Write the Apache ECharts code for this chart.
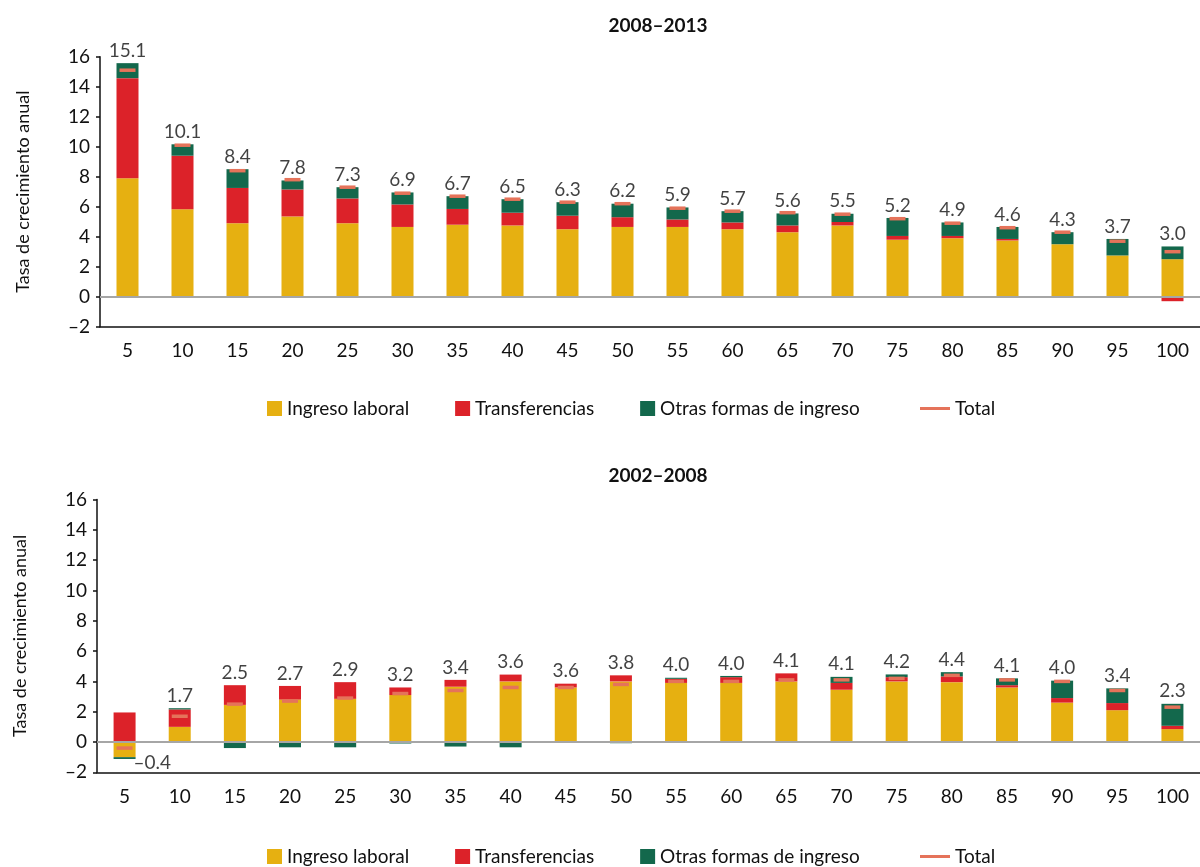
<!DOCTYPE html>
<html>
<head>
<meta charset="utf-8">
<script src="https://cdn.jsdelivr.net/npm/echarts@6/dist/echarts.min.js"></script>
<style>
  html, body { margin: 0; padding: 0; background: #fff; }
  #chart { width: 1200px; height: 867px; }
</style>
</head>
<body>
<div id="chart"></div>
<script>
// ── datos ───────────────────────────────────────────
const percentiles = ['5','10','15','20','25','30','35','40','45','50','55','60','65','70','75','80','85','90','95','100']
const yTicks = { min: -2, max: 16, step: 2 }

// 2008–2013
const laboralA = [7.9, 5.83, 4.9, 5.35, 4.9, 4.65, 4.8, 4.75, 4.5, 4.65, 4.65, 4.5, 4.3, 4.75, 3.8, 3.9, 3.75, 3.5, 2.75, 2.5]
const transfA  = [6.67, 3.57, 2.35, 1.8, 1.65, 1.5, 1.05, 0.85, 0.9, 0.65, 0.5, 0.45, 0.45, 0.23, 0.25, 0.15, 0.1, 0, -0.05, -0.3]
const otrasA   = [1.0, 0.76, 1.25, 0.6, 0.75, 0.8, 0.85, 0.9, 0.9, 0.9, 0.8, 0.75, 0.8, 0.55, 1.2, 0.9, 0.8, 0.8, 1.1, 0.85]
const totalA   = [15.1, 10.1, 8.4, 7.8, 7.3, 6.9, 6.7, 6.5, 6.3, 6.2, 5.9, 5.7, 5.6, 5.5, 5.2, 4.9, 4.6, 4.3, 3.7, 3.0]

// 2002–2008
const laboralB = [-1.0, 1.0, 2.45, 2.8, 2.85, 3.1, 3.65, 4.0, 3.6, 4.0, 3.9, 3.9, 4.0, 3.45, 4.0, 3.95, 3.6, 2.6, 2.1, 0.85]
const transfB  = [1.95, 1.15, 1.3, 0.9, 1.1, 0.5, 0.45, 0.45, 0.25, 0.4, 0.27, 0.38, 0.53, 0.45, 0.28, 0.38, 0.15, 0.3, 0.47, 0.22]
const otrasB   = [-0.12, 0.08, -0.4, -0.35, -0.35, -0.1, -0.3, -0.35, 0, -0.08, 0.07, 0.08, 0, 0.4, 0.18, 0.28, 0.45, 1.15, 0.97, 1.45]
const totalB   = [-0.4, 1.7, 2.5, 2.7, 2.9, 3.2, 3.4, 3.6, 3.6, 3.8, 4.0, 4.0, 4.1, 4.1, 4.2, 4.4, 4.1, 4.0, 3.4, 2.3]

const names = ['Ingreso laboral', 'Transferencias', 'Otras formas de ingreso', 'Total']

// colores
const YEL = '#e6b011'
const RED = '#dc2229'
const GRN = '#13684c'
const TOT = '#e5735a'
const INK = '#111'
const FONT = 'Lato, "Open Sans", sans-serif'

const fmt = v => v.toFixed(1).replace('-', '\u2013')

// posición de la etiqueta: encima de la pila positiva, o a la derecha si el total es negativo
const labelData = (parts, totals) => totals.map((t, i) => {
  const pos = parts.reduce((s, p) => s + Math.max(p[i], 0), 0)
  const neg = parts.reduce((s, p) => s + Math.min(p[i], 0), 0)
  if (t < 0) {
    return { value: neg, label: { position: 'right', distance: 9, offset: [0, 4] } }
  }
  return { value: pos }
})

const zeroLine = {
  silent: true,
  symbol: 'none',
  label: { show: false },
  lineStyle: { color: '#a6a6a6', width: 2, type: 'solid' },
  data: [{ yAxis: 0 }],
}

const buildSeries = (idx, lab, tra, otr, tot) => [
  {
    name: names[0], type: 'bar', stack: 's' + idx, xAxisIndex: idx, yAxisIndex: idx,
    barWidth: 22, data: lab, itemStyle: { color: YEL },
    markLine: zeroLine,
  },
  {
    name: names[1], type: 'bar', stack: 's' + idx, xAxisIndex: idx, yAxisIndex: idx,
    barWidth: 22, data: tra, itemStyle: { color: RED },
  },
  {
    name: names[2], type: 'bar', stack: 's' + idx, xAxisIndex: idx, yAxisIndex: idx,
    barWidth: 22, data: otr, itemStyle: { color: GRN },
  },
  {
    name: names[3], type: 'scatter', xAxisIndex: idx, yAxisIndex: idx,
    symbol: 'rect', symbolSize: [16, 3.5], z: 5,
    itemStyle: { color: TOT, opacity: 1 }, data: tot,
  },
  {
    name: 'etiquetas', type: 'scatter', xAxisIndex: idx, yAxisIndex: idx,
    symbolSize: 0, z: 6, silent: true,
    data: labelData([lab, tra, otr], tot),
    label: {
      show: true, position: 'top', distance: 3,
      color: INK, fontSize: 19, fontFamily: FONT,
      formatter: p => fmt(tot[p.dataIndex]),
    },
  },
]

const xAxisCfg = (idx) => ({
  type: 'category', gridIndex: idx, data: percentiles,
  axisLine: { onZero: false, lineStyle: { color: INK, width: 1.5 } },
  axisTick: { show: false },
  axisLabel: { color: INK, fontSize: 19, fontFamily: FONT, margin: 15 },
  splitLine: { show: false },
})

const yAxisCfg = (idx) => ({
  type: 'value', gridIndex: idx,
  min: yTicks.min, max: yTicks.max, interval: yTicks.step,
  name: 'Tasa de crecimiento anual', nameLocation: 'middle', nameGap: 68,
  nameTextStyle: { color: INK, fontSize: 18, fontFamily: FONT },
  axisLine: { show: true, lineStyle: { color: INK, width: 1.5 } },
  axisTick: { show: true, inside: false, length: 4, lineStyle: { color: INK, width: 1.5 } },
  axisLabel: {
    color: INK, fontSize: 19, fontFamily: FONT, margin: 10,
    formatter: v => String(v).replace('-', '\u2013'),
  },
  splitLine: { show: false },
})

const legendCfg = (top) => [
  {
    left: 262, top, itemWidth: 15, itemHeight: 15, itemGap: 46, icon: 'rect',
    textStyle: { color: INK, fontSize: 19, fontFamily: FONT },
    data: names.slice(0, 3),
  },
  {
    left: 915, top, itemWidth: 30, itemHeight: 3,
    textStyle: { color: INK, fontSize: 19, fontFamily: FONT },
    data: [{ name: 'Total', icon: 'rect' }],
  },
]

const chart = echarts.init(document.getElementById('chart'), null, { renderer: 'canvas' })
chart.setOption({
  animation: false,
  backgroundColor: '#fff',
  title: [
    { text: '2008\u20132013', left: 653, top: 11, textAlign: 'center',
      textStyle: { fontSize: 19, fontWeight: 'bold', color: INK, fontFamily: FONT } },
    { text: '2002\u20132008', left: 653, top: 461, textAlign: 'center',
      textStyle: { fontSize: 19, fontWeight: 'bold', color: INK, fontFamily: FONT } },
  ],
  legend: [...legendCfg(394), ...legendCfg(842)],
  grid: [
    { left: 100, right: -6, top: 56.7, height: 270 },
    { left: 97, right: -13, top: 499.6, height: 272.7 },
  ],
  xAxis: [xAxisCfg(0), xAxisCfg(1)],
  yAxis: [yAxisCfg(0), yAxisCfg(1)],
  series: [
    ...buildSeries(0, laboralA, transfA, otrasA, totalA),
    ...buildSeries(1, laboralB, transfB, otrasB, totalB),
  ],
})
</script>
</body>
</html>
